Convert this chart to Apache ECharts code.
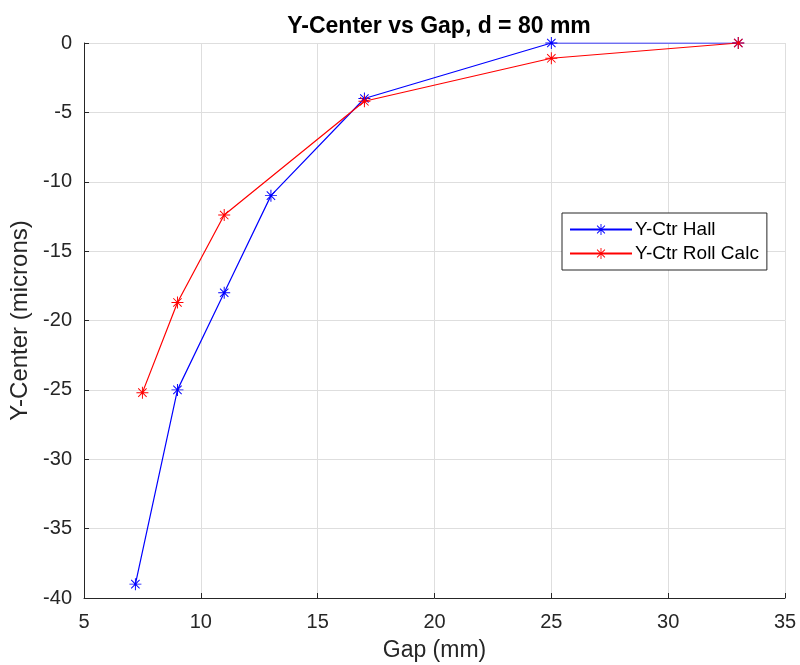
<!DOCTYPE html>
<html lang="en">

<head>
    <meta charset="UTF-8">
    <title>Y-Center vs Gap</title>
</head>
<style>
    html, body { margin: 0; padding: 0; background: #fff; }
    .box { width: 800px; height: 665px; }
</style>

<body>
    <div class="box" id="myChart"></div>
    <script src="https://cdn.jsdelivr.net/npm/echarts@6/dist/echarts.min.js"></script>
    <script>
        // 数据
        const hallGap = [7.2, 9, 11, 13, 17, 25, 33];
        const hallY = [-39, -25, -18, -11, -4, 0, 0];
        const rollGap = [7.5, 9, 11, 17, 25, 33];
        const rollY = [-25.2, -18.7, -12.4, -4.2, -1.1, 0];

        // MATLAB 风格星号
        const star = 'path://M0 46L100 46L100 54L0 54Z M46 0L54 0L54 100L46 100Z ' +
            'M12.2 17.8L17.8 12.2L87.8 82.2L82.2 87.8Z M82.2 12.2L87.8 17.8L17.8 87.8L12.2 82.2Z';
        const font = 'Liberation Sans';

        let myEchart = echarts.init(document.getElementById('myChart'));
        let option = {
            animation: false,
            textStyle: { fontFamily: font },
            title: {
                text: 'Y-Center vs Gap, d = 80 mm',
                left: 434,
                top: 10,
                textAlign: 'center',
                textStyle: { fontSize: 23, fontWeight: 'bold', color: '#000', fontFamily: font }
            },
            legend: {
                left: 562,
                top: 213,
                orient: 'vertical',
                backgroundColor: '#fff',
                borderColor: '#262626',
                borderWidth: 1,
                borderRadius: 0,
                padding: [7, 8, 7, 7],
                itemGap: 5,
                itemWidth: 62,
                itemHeight: 14,
                textStyle: { fontSize: 19, color: '#000', fontFamily: font, padding: [0, 0, 0, -2] },
                data: ['Y-Ctr Hall', 'Y-Ctr Roll Calc']
            },
            grid: { left: 84, right: 15, top: 43, bottom: 67, outerBoundsMode: 'none', containLabel: false },
            xAxis: {
                type: 'value',
                min: 5, max: 35, interval: 5,
                name: 'Gap (mm)',
                nameLocation: 'middle',
                nameGap: 41,
                nameTextStyle: { fontSize: 23, color: '#262626' },
                axisLine: { show: true, onZero: false, lineStyle: { color: '#262626', width: 1 } },
                axisTick: { show: true, inside: true, length: 5, lineStyle: { color: '#262626' } },
                axisLabel: { fontSize: 20, color: '#262626', margin: 14 },
                splitLine: { show: true, lineStyle: { color: '#dedede', width: 1 } }
            },
            yAxis: {
                type: 'value',
                min: -40, max: 0, interval: 5,
                name: 'Y-Center (microns)',
                nameLocation: 'middle',
                nameGap: 52,
                nameTextStyle: { fontSize: 24, color: '#262626' },
                axisLine: { show: true, onZero: false, lineStyle: { color: '#262626', width: 1 } },
                axisTick: { show: true, inside: true, length: 5, lineStyle: { color: '#262626' } },
                axisLabel: { fontSize: 20, color: '#262626', margin: 12 },
                splitLine: { show: true, lineStyle: { color: '#dedede', width: 1 } }
            },
            series: [{
                    name: 'Y-Ctr Hall',
                    type: 'line',
                    symbol: star,
                    symbolSize: 12,
                    color: '#0000ff',
                    lineStyle: { width: 1.2, color: '#0000ff' },
                    itemStyle: { color: '#0000ff' },
                    data: hallGap.map((g, i) => [g, hallY[i]])
                },
                {
                    name: 'Y-Ctr Roll Calc',
                    type: 'line',
                    symbol: star,
                    symbolSize: 12,
                    color: '#ff0000',
                    lineStyle: { width: 1.2, color: '#ff0000' },
                    itemStyle: { color: '#ff0000' },
                    data: rollGap.map((g, i) => [g, rollY[i]])
                }
            ]
        };
        myEchart.setOption(option, true);
    </script>
</body>

</html>
